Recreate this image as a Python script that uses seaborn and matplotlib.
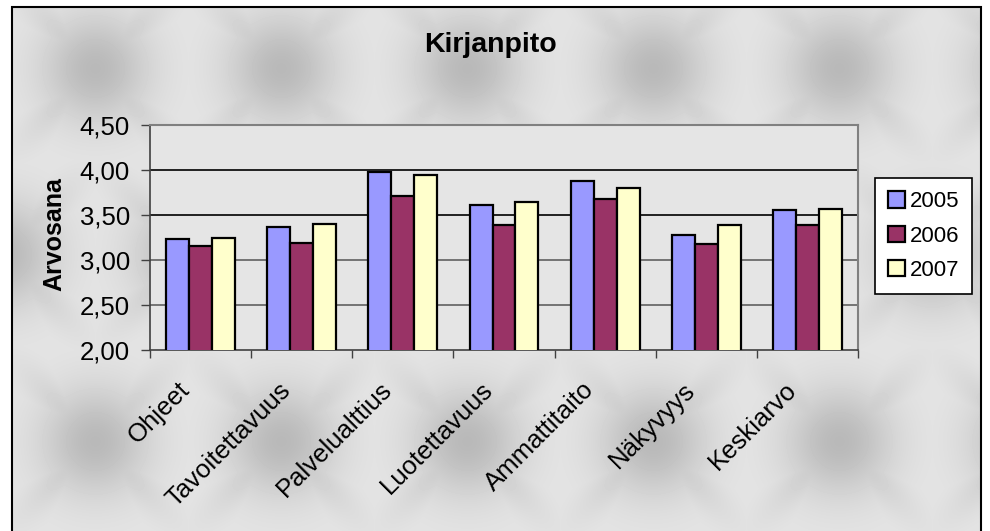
import matplotlib
matplotlib.use("Agg")
import matplotlib.pyplot as plt
import matplotlib.transforms as mtransforms
import numpy as np
import pandas as pd
import seaborn as sns
from matplotlib.patches import Rectangle
from matplotlib.ticker import FixedLocator, FuncFormatter

# data
categories = ["Ohjeet", "Tavoitettavuus", "Palvelualttius", "Luotettavuus",
              "Ammattitaito", "Näkyvyys", "Keskiarvo"]
years = ["2005", "2006", "2007"]
vals_2005 = [3.23, 3.37, 3.98, 3.61, 3.88, 3.28, 3.56]
vals_2006 = [3.16, 3.19, 3.71, 3.39, 3.68, 3.18, 3.39]
vals_2007 = [3.25, 3.40, 3.94, 3.65, 3.80, 3.39, 3.57]
y_ticks = [2.0, 2.5, 3.0, 3.5, 4.0, 4.5]
colors = ["#9999FF", "#993366", "#FFFFCC"]

df = pd.DataFrame({
    "Kategoria": categories * 3,
    "Vuosi": [y for y in years for _ in categories],
    "Arvosana": vals_2005 + vals_2006 + vals_2007,
})

W, H = 990, 531
fig = plt.figure(figsize=(W / 100, H / 100), dpi=100)
fig.patch.set_facecolor("white")

# textured grey chart-area background (Excel style)
yy, xx = np.mgrid[0:H, 0:W].astype(float)
dark = np.zeros((H, W))
for j, cy in enumerate([68, 254, 441]):
    off = 0 if j % 2 == 0 else 93
    for cx in np.arange(95 + off - 186 * 2, W + 200, 186):
        dx, dy = xx - cx, yy - cy
        r2 = dx ** 2 + dy ** 2
        blob = np.exp(-r2 / (2 * 38 ** 2))
        diag = np.minimum(np.abs(dx - dy), np.abs(dx + dy)) / np.sqrt(2)
        arms = np.exp(-diag ** 2 / (2 * 14 ** 2)) * np.exp(-r2 / (2 * 60 ** 2))
        dark = np.maximum(dark, np.maximum(blob, 0.7 * arms))
img = 0.895 - 0.17 * dark
img[:, :12] = 1.0
img[:, 982:] = 1.0
img[:7, :] = 1.0
bg = fig.add_axes([0, 0, 1, 1], zorder=-5)
bg.imshow(img, cmap="gray", vmin=0, vmax=1, aspect="auto", interpolation="bilinear")
bg.axis("off")
fig.patches.append(Rectangle((12 / W, -0.01), (981 - 12) / W, 1.01 - 7 / H,
                             transform=fig.transFigure, fill=False,
                             edgecolor="black", linewidth=1.5, zorder=10))

ax = fig.add_axes([150 / W, 1 - 350 / H, 708 / W, 225 / H])
ax.set_facecolor("#E5E5E5")

sns.barplot(data=df, x="Kategoria", y="Arvosana", hue="Vuosi",
            palette=colors, width=0.68, gap=0, edgecolor="black",
            linewidth=1.6, saturation=1, ax=ax, zorder=3)

ax.set_ylim(2.0, 4.5)
ax.set_xlim(-0.5, len(categories) - 0.5)
ax.set_yticks(y_ticks)
ax.yaxis.set_major_formatter(FuncFormatter(lambda v, p: f"{v:.2f}".replace(".", ",")))
grid_cols = ["#606060", "#606060", "black", "black"]
for v, c in zip(y_ticks[1:-1], grid_cols):
    ax.axhline(v, color=c, linewidth=1.2, zorder=1)

ax.tick_params(axis="y", direction="out", length=6.5, width=1, labelsize=18.5,
               pad=8, color="#404040")
ax.set_xticks(range(len(categories)))
ax.set_xticklabels(categories, rotation=45, ha="right", va="center",
                   rotation_mode="anchor", fontsize=18.5)
ax.tick_params(axis="x", which="major", length=0, pad=16)
shift = mtransforms.ScaledTranslation(-0.15, -0.14, fig.dpi_scale_trans)
for lab in ax.get_xticklabels():
    lab.set_transform(lab.get_transform() + shift)
ax.xaxis.set_minor_locator(FixedLocator(np.arange(-0.5, len(categories), 1.0)))
ax.tick_params(axis="x", which="minor", direction="out", length=5.5, width=1,
               color="#404040")

for side in ["left", "bottom"]:
    ax.spines[side].set_color("#404040")
    ax.spines[side].set_linewidth(1.2)
for side in ["top", "right"]:
    ax.spines[side].set_color("#808080")
    ax.spines[side].set_linewidth(1.5)

ax.set_xlabel("")
ax.set_ylabel("Arvosana", fontsize=18, fontweight="bold")
ax.yaxis.set_label_coords(66 / W, 1 - 234 / H, transform=fig.transFigure)

fig.text(490 / W, 1 - 45 / H, "Kirjanpito", fontsize=20.5, fontweight="bold",
         ha="center", va="center")

leg = ax.legend(loc="upper left", bbox_to_anchor=(875 / W, 1 - 178 / H),
                bbox_transform=fig.transFigure, borderaxespad=0, fontsize=16,
                frameon=True, fancybox=False, handlelength=0.75, handleheight=0.75,
                handletextpad=0.2, labelspacing=0.6, borderpad=0.6)
leg.get_frame().set_edgecolor("black")
leg.get_frame().set_facecolor("white")
leg.get_frame().set_linewidth(1.2)
leg.get_frame().set_alpha(1)

for t in fig.findobj(matplotlib.text.Text):
    t.set_fontfamily(["Liberation Sans", "DejaVu Sans"])

fig.savefig("out.png", dpi=100)
